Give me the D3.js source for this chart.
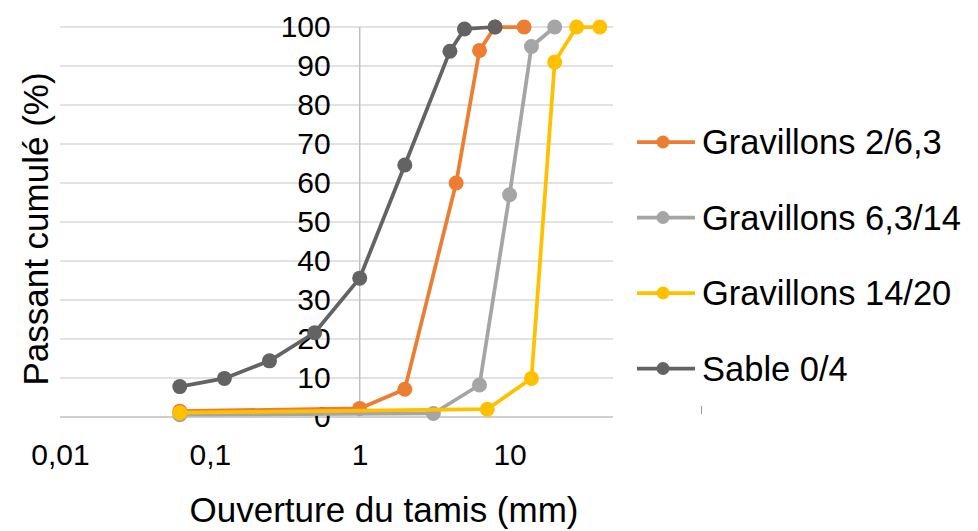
<!DOCTYPE html>
<html>
<head>
<meta charset="utf-8">
<script src="https://cdn.jsdelivr.net/npm/d3@7"></script>
<style>
  html, body { margin: 0; padding: 0; background: #fff; }
  svg { display: block; font-family: "Liberation Sans", Arial, sans-serif; }
</style>
</head>
<body>
<svg id="chart" width="978" height="531"></svg>
<script>
// ---- Data ----
const seriesNames = ["Gravillons 2/6,3", "Gravillons 6,3/14", "Gravillons 14/20", "Sable 0/4"];
const seriesColors = ["#ED7D31", "#A5A5A5", "#FFC000", "#636363"];

const orangeX = [0.063, 1, 2, 4.4, 6.3, 8, 12.5];
const orangeY = [1.5, 2.2, 7.1, 60, 94, 100, 100];

const grayX = [0.063, 3.1, 6.3, 10, 14, 20];
const grayY = [0.6, 0.9, 8.2, 57, 95, 100];

const yellowX = [0.063, 7.1, 14, 20, 28, 40];
const yellowY = [1.1, 2.0, 9.9, 91, 100, 100];

const sableX = [0.063, 0.125, 0.25, 0.5, 1, 2, 4, 5, 8];
const sableY = [7.8, 9.9, 14.4, 21.6, 35.6, 64.6, 93.8, 99.5, 100];

const xTicks = [0.01, 0.1, 1, 10];
const xTickLabels = ["0,01", "0,1", "1", "10"];
const yTicks = [0, 10, 20, 30, 40, 50, 60, 70, 80, 90, 100];

const xTitle = "Ouverture du tamis (mm)";
const yTitle = "Passant cumulé (%)";

// ---- Build ----
(function () {
const series = [
  { name: seriesNames[0], color: seriesColors[0], xs: orangeX, ys: orangeY },
  { name: seriesNames[1], color: seriesColors[1], xs: grayX, ys: grayY },
  { name: seriesNames[2], color: seriesColors[2], xs: yellowX, ys: yellowY },
  { name: seriesNames[3], color: seriesColors[3], xs: sableX, ys: sableY }
];

const svg = d3.select("#chart");
const pLeft = 60, pRight = 613, pTop = 27, pBottom = 417;

const x = d3.scaleLog().domain([0.01, 49]).range([pLeft, pRight]);
const y = d3.scaleLinear().domain([0, 100]).range([pBottom, pTop]);

// horizontal gridlines
svg.append("g")
  .selectAll("line").data(yTicks.filter(d => d > 0)).join("line")
  .attr("x1", pLeft).attr("x2", pRight)
  .attr("y1", d => y(d)).attr("y2", d => y(d))
  .attr("stroke", "#d9d9d9").attr("stroke-width", 1.5);

// x axis line at y=0
svg.append("line")
  .attr("x1", pLeft).attr("x2", pRight)
  .attr("y1", y(0)).attr("y2", y(0))
  .attr("stroke", "#bfbfbf").attr("stroke-width", 1.5);

// y axis line at x=1
svg.append("line")
  .attr("x1", x(1)).attr("x2", x(1))
  .attr("y1", pTop).attr("y2", pBottom)
  .attr("stroke", "#bfbfbf").attr("stroke-width", 1.5);

// y axis labels
const yAxis = d3.axisLeft(y).tickValues(yTicks).tickSize(0).tickPadding(29).tickFormat(d3.format("d"));
const gy = svg.append("g").attr("transform", `translate(${x(1)},0)`).call(yAxis);
gy.select(".domain").remove();
gy.selectAll("text").attr("font-size", 30).attr("fill", "#000").attr("font-family", "Liberation Sans, Arial, sans-serif");

// x axis labels
const xAxis = d3.axisBottom(x).tickValues(xTicks).tickSize(0).tickPadding(27)
  .tickFormat((d, i) => xTickLabels[i]);
const gx = svg.append("g").attr("transform", `translate(0,${y(0)})`).call(xAxis);
gx.select(".domain").remove();
gx.selectAll("text").attr("font-size", 30).attr("fill", "#000").attr("font-family", "Liberation Sans, Arial, sans-serif");

// series
const line = d3.line().x(d => x(d[0])).y(d => y(d[1]));
series.forEach(s => {
  const pts = s.xs.map((v, i) => [v, s.ys[i]]);
  const g = svg.append("g");
  g.append("path").datum(pts)
    .attr("d", line).attr("fill", "none")
    .attr("stroke", s.color).attr("stroke-width", 3.75)
    .attr("stroke-linejoin", "round").attr("stroke-linecap", "round");
  g.selectAll("circle").data(pts).join("circle")
    .attr("cx", d => x(d[0])).attr("cy", d => y(d[1])).attr("r", 7.5)
    .attr("fill", s.color);
});

// legend
const lg = svg.append("g");
series.forEach((s, i) => {
  const cy = 142 + i * 75.5;
  lg.append("line").attr("x1", 637).attr("x2", 695).attr("y1", cy).attr("y2", cy)
    .attr("stroke", s.color).attr("stroke-width", 3.75);
  lg.append("circle").attr("cx", 663).attr("cy", cy).attr("r", 6.5).attr("fill", s.color);
  lg.append("text").attr("x", 702).attr("y", cy).attr("dy", "0.35em")
    .attr("font-size", 34.5).attr("fill", "#000").text(s.name);
});
// tiny artifact mark below legend
lg.append("line").attr("x1", 701.5).attr("x2", 701.5).attr("y1", 406).attr("y2", 414)
  .attr("stroke", "#999").attr("stroke-width", 1);

// axis titles
svg.append("text").attr("x", 384).attr("y", 522).attr("text-anchor", "middle")
  .attr("font-size", 35).attr("fill", "#000").text(xTitle);
svg.append("text").attr("transform", "translate(48,229) rotate(-90)")
  .attr("text-anchor", "middle").attr("font-size", 35).attr("fill", "#000").text(yTitle);
})();
</script>
</body>
</html>
